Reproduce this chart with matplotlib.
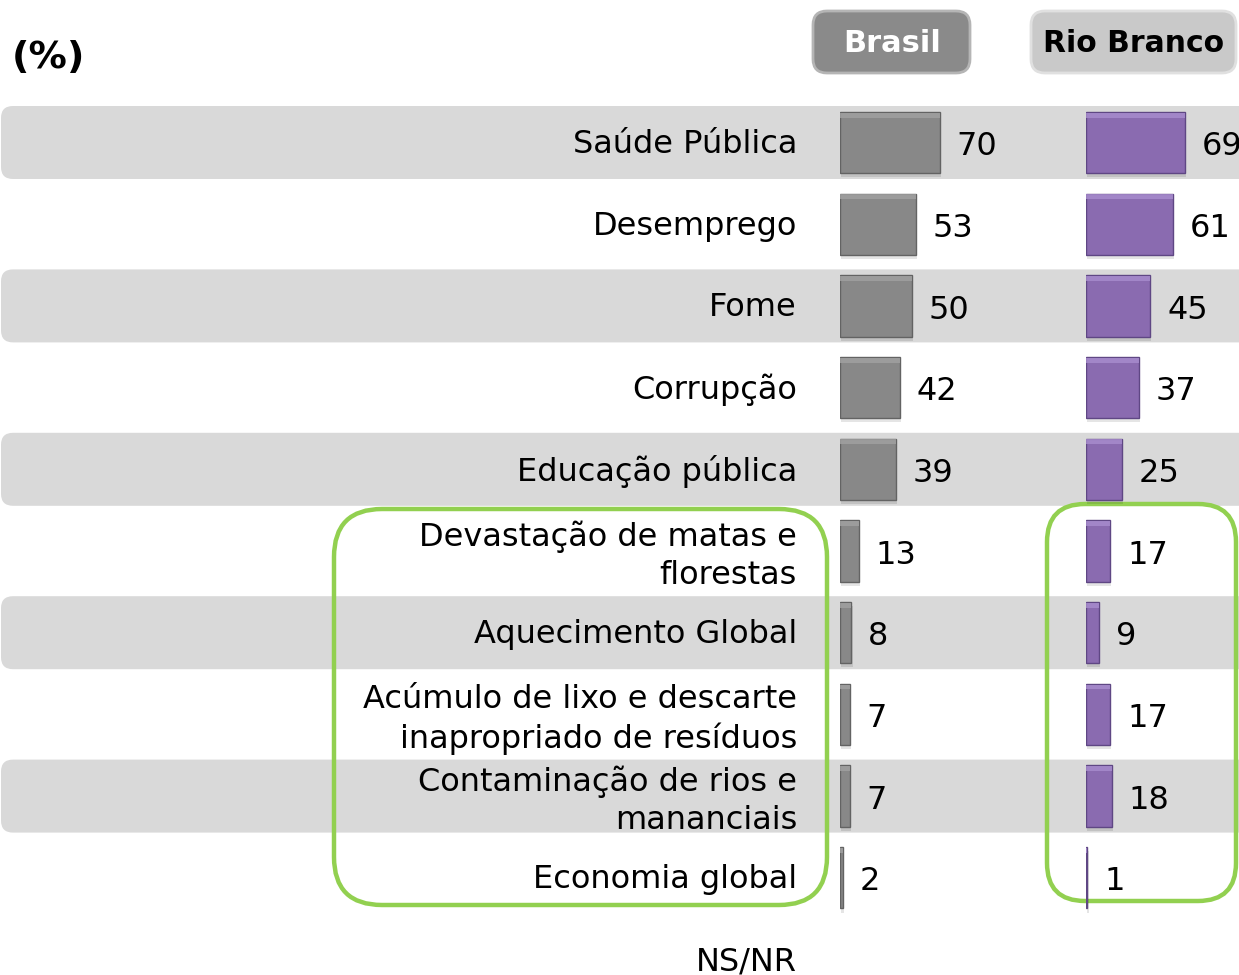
import matplotlib
matplotlib.use("Agg")
import matplotlib.pyplot as plt
from matplotlib.patches import FancyBboxPatch

categories = ["Saúde Pública", "Desemprego", "Fome", "Corrupção", "Educação pública",
              "Devastação de matas e\nflorestas", "Aquecimento Global",
              "Acúmulo de lixo e descarte\ninapropriado de resíduos",
              "Contaminação de rios e\nmananciais", "Economia global", "NS/NR"]
brasil = [70, 53, 50, 42, 39, 13, 8, 7, 7, 2, None]
rio_branco = [69, 61, 45, 37, 25, 17, 9, 17, 18, 1, None]
series_names = ["Brasil", "Rio Branco"]

W, H = 1239, 975
fig = plt.figure(figsize=(W / 100, H / 100), dpi=100)

# pixel overlay axes for decoration
ax_px = fig.add_axes([0, 0, 1, 1])
ax_px.set_xlim(0, W)
ax_px.set_ylim(H, 0)
ax_px.axis("off")

Y0, STEP = 142.5, 81.7
n = len(categories)

def row_px(i):
    return Y0 + STEP * i

# alternating grey bands
for i in range(0, n - 1, 2):
    yc = row_px(i)
    ax_px.add_patch(FancyBboxPatch((1, yc - 36.5), W + 40, 73,
                                   boxstyle="round,pad=0,rounding_size=12",
                                   fc="#d9d9d9", ec="none", zorder=0))

# header buttons
ax_px.add_patch(FancyBboxPatch((813, 11), 157, 62, boxstyle="round,pad=0,rounding_size=14",
                               fc="#8a8a8a", ec="#b5b5b5", lw=2, zorder=2))
ax_px.text(892, 44, series_names[0], ha="center", va="center", color="white",
           fontsize=22, fontweight="bold", zorder=3)
ax_px.add_patch(FancyBboxPatch((1031, 11), 205, 62, boxstyle="round,pad=0,rounding_size=14",
                               fc="#c9c9c9", ec="#e0e0e0", lw=2, zorder=2))
ax_px.text(1134, 44, series_names[1], ha="center", va="center", color="black",
           fontsize=21.5, fontweight="bold", zorder=3)

ax_px.text(12, 58, "(%)", ha="left", va="center", fontsize=27.5, fontweight="bold")

# green highlight boxes
ax_px.add_patch(FancyBboxPatch((334, 509), 493, 396, boxstyle="round,pad=0,rounding_size=48",
                               fc="none", ec="#92d050", lw=3.2, zorder=5))
ax_px.add_patch(FancyBboxPatch((1047, 504), 189, 397, boxstyle="round,pad=0,rounding_size=38",
                               fc="none", ec="#92d050", lw=3.2, zorder=5))

# category labels
for i, cat in enumerate(categories):
    dy = 5 if "\n" in cat else 2
    ax_px.text(797, row_px(i) + dy, cat, ha="right", va="center", fontsize=23,
               linespacing=1.3, zorder=4)

# bar axes (x in percent, y in row units)
PX_PER_UNIT = 1.43
ylim = ((H - Y0) / STEP, (0 - Y0) / STEP)

def bar_axes(x_left_px, width_px):
    ax = fig.add_axes([x_left_px / W, 0, width_px / W, 1])
    ax.set_xlim(0, width_px / PX_PER_UNIT)
    ax.set_ylim(*ylim)
    ax.axis("off")
    ax.patch.set_alpha(0)
    return ax

ax_b = bar_axes(840, 200)
ax_r = bar_axes(1086, 153)

BH = 0.75

def draw(ax, vals, face, edge, light):
    idx = [i for i, v in enumerate(vals) if v is not None]
    v = [vals[i] for i in idx]
    # soft shadow
    ax.barh([i + 0.05 for i in idx], v, height=BH, left=0.8, color="#000000", alpha=0.10,
            zorder=1)
    ax.barh(idx, v, height=BH, color=face, edgecolor=edge, linewidth=1.0, zorder=2)
    # bevel highlight at top
    ax.barh([i - BH / 2 + 0.04 for i in idx], v, height=0.06, color=light, alpha=0.8,
            zorder=3, linewidth=0)
    for i, val in zip(idx, v):
        ax.annotate(str(val), (val, i), xytext=(12, -3), textcoords="offset points",
                    ha="left", va="center", fontsize=23, zorder=4, annotation_clip=False)

draw(ax_b, brasil, "#888888", "#636363", "#a2a2a2")
draw(ax_r, rio_branco, "#8a6bb0", "#5f4784", "#a98ecf")

fig.savefig("out.png", dpi=100)
